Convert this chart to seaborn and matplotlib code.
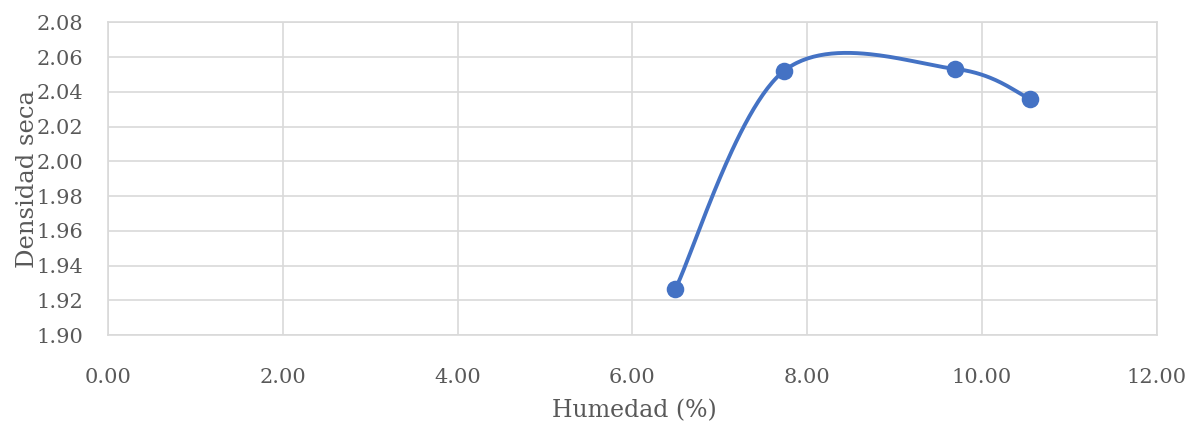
import numpy as np
import pandas as pd
import matplotlib
matplotlib.use("Agg")
import matplotlib.pyplot as plt
import seaborn as sns

# lecturas del ensayo proctor
humedad = [6.49, 7.735, 9.69, 10.55]
densidad = [1.9263, 2.0521, 2.0533, 2.0360]

x_ticks = [0, 2, 4, 6, 8, 10, 12]
y_ticks = [1.90, 1.92, 1.94, 1.96, 1.98, 2.00, 2.02, 2.04, 2.06, 2.08]


def excel_smooth(xs, ys, n=60):
    # curva suavizada tipo excel (bezier con tangentes catmull-rom)
    p = np.column_stack([xs, ys])
    pts = []
    for i in range(len(p) - 1):
        p0 = p[i - 1] if i > 0 else p[i]
        p1 = p[i]
        p2 = p[i + 1]
        p3 = p[i + 2] if i + 2 < len(p) else p[i + 1]
        c1 = p1 + (p2 - p0) / 6
        c2 = p2 - (p3 - p1) / 6
        t = np.linspace(0, 1, n)[:, None]
        seg = ((1 - t) ** 3) * p1 + 3 * ((1 - t) ** 2) * t * c1 + 3 * (1 - t) * t ** 2 * c2 + t ** 3 * p2
        pts.append(seg if i == 0 else seg[1:])
    return np.vstack(pts)


sns.set_theme(style="whitegrid")
plt.rcParams['font.family'] = ['DejaVu Serif']

curve = excel_smooth(humedad, densidad)
df_curve = pd.DataFrame({"x": curve[:, 0], "y": curve[:, 1]})
df_pts = pd.DataFrame({"x": humedad, "y": densidad})

fig = plt.figure(figsize=(11.9, 4.3), dpi=100)
ax = fig.add_axes([0.0908, 0.2209, 0.8812, 0.7268])

blue = "#4472C4"
sns.lineplot(data=df_curve, x="x", y="y", ax=ax, color=blue, linewidth=2.8, sort=False)
sns.scatterplot(data=df_pts, x="x", y="y", ax=ax, color=blue, s=160, edgecolor=blue, linewidth=0, zorder=3)

ax.set_xlim(0, 12)
ax.set_ylim(1.90, 2.08)
ax.set_xticks(x_ticks)
ax.set_yticks(y_ticks)
ax.set_xticklabels([f"{v:.2f}" for v in x_ticks])
ax.set_yticklabels([f"{v:.2f}" for v in y_ticks])

ax.grid(True, color="#d9d9d9", linewidth=1.2)
for s in ax.spines.values():
    s.set_color("#d9d9d9")
    s.set_linewidth(1.2)

ax.tick_params(axis="x", pad=24, labelsize=15, colors="#595959", length=0)
ax.tick_params(axis="y", pad=18, labelsize=15, colors="#595959", length=0)

ax.set_xlabel("Humedad (%)", fontsize=17, color="#595959")
ax.set_ylabel("Densidad seca", fontsize=17.5, color="#595959")
ax.xaxis.set_label_coords(0.502, -0.205)
ax.yaxis.set_label_coords(-0.066, 0.50)

fig.savefig("out.png", dpi=100)
